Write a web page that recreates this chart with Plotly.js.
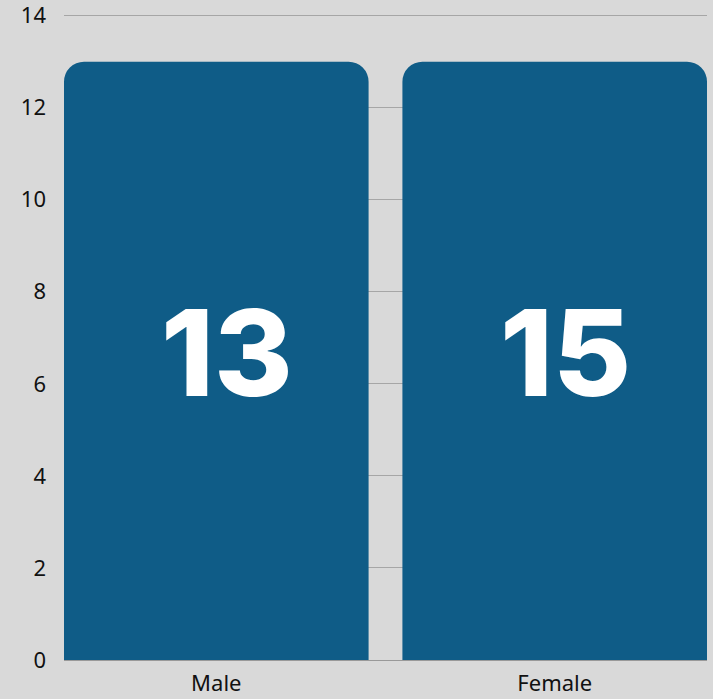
<!DOCTYPE html>
<html>
<head>
<meta charset="utf-8">
<script src="https://cdn.plot.ly/plotly-3.0.1.min.js"></script>
<style>html,body{margin:0;padding:0;background:#d9d9d9;}#chart{width:713px;height:699px;}</style>
</head>
<body>
<div id="chart"></div>
<script>
const categories = ["Male", "Female"];
const barHeights = [13, 13];
const barLabels = ["13", "15"];
const yTicks = [0, 2, 4, 6, 8, 10, 12, 14];

const annotations = categories.map((c, i) => ({
  x: c, y: barHeights[i] / 2, xref: "x", yref: "y",
  text: barLabels[i], showarrow: false, yshift: 8, xshift: 11,
  font: {family: "Inter, 'Open Sans', sans-serif", size: 120, color: "#ffffff", weight: 800}
}));

Plotly.newPlot("chart", [{
  type: "bar",
  x: categories,
  y: barHeights,
  marker: {color: "#0f5c87", cornerradius: 20},
  hoverinfo: "none"
}], {
  width: 713, height: 699,
  margin: {l: 64, r: 6, t: 11, b: 39},
  paper_bgcolor: "#d9d9d9",
  plot_bgcolor: "#d9d9d9",
  bargap: 0.1,
  showlegend: false,
  annotations: annotations,
  font: {family: "'Noto Sans', Roboto, sans-serif", color: "#111111"},
  xaxis: {
    range: [-0.45, 1.45],
    showgrid: false, showline: true, linecolor: "#999999", linewidth: 1,
    tickfont: {size: 22}, ticks: "", ticklabelstandoff: 4, fixedrange: true
  },
  yaxis: {
    range: [0, 14.1], tickvals: yTicks, showgrid: true, gridcolor: "#a6a6a6", gridwidth: 1,
    zeroline: false, showline: false, tickfont: {size: 22}, ticks: "", ticklabelstandoff: 17,
    ticklabeloverflow: "allow", automargin: false, fixedrange: true
  }
}, {displayModeBar: false, staticPlot: true});
</script>
</body>
</html>
